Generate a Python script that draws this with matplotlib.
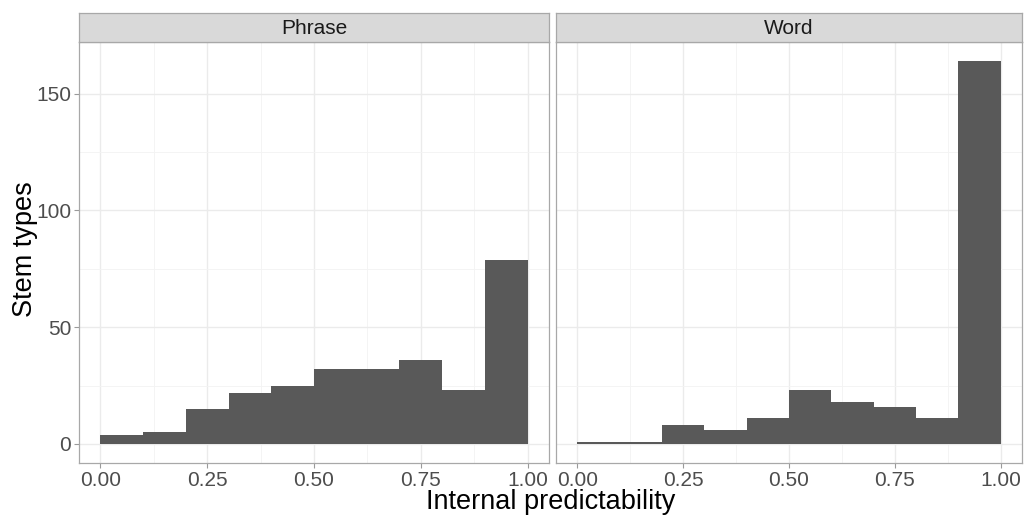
import numpy as np
import matplotlib
matplotlib.use("Agg")
import matplotlib.pyplot as plt
from matplotlib.ticker import MultipleLocator

plt.rcParams['font.family'] = ['Liberation Sans', 'DejaVu Sans']

# histogram bins (width 0.1) and counts per facet
bin_edges = [0.0, 0.1, 0.2, 0.3, 0.4, 0.5, 0.6, 0.7, 0.8, 0.9, 1.0]
facets = ["Phrase", "Word"]
phrase_counts = [4, 5, 15, 22, 25, 32, 32, 36, 23, 79]
word_counts = [1, 1, 8, 6, 11, 23, 18, 16, 11, 164]
x_ticks = [0.0, 0.25, 0.5, 0.75, 1.0]
x_ticklabels = ["0.00", "0.25", "0.50", "0.75", "1.00"]
y_ticks = [0, 50, 100, 150]

W, H = 1024, 516
fig = plt.figure(figsize=(W / 100, H / 100), dpi=100)

ymax = max(max(phrase_counts), max(word_counts))
ylim = (-0.05 * ymax, 1.05 * ymax)

panels = [(79, 549), (556, 1022)]
top, strip_top, bottom = 42, 13, 463

for i, (name, counts) in enumerate(zip(facets, [phrase_counts, word_counts])):
    x0, x1 = panels[i]
    ax = fig.add_axes([x0 / W, (H - bottom) / H, (x1 - x0) / W, (bottom - top) / H])
    left = np.array(bin_edges[:-1])
    widths = np.diff(bin_edges)
    ax.bar(left, counts, width=widths, align="edge", color="#595959", linewidth=0, zorder=3)
    ax.set_xlim(-0.05, 1.05)
    ax.set_ylim(*ylim)
    ax.set_xticks(x_ticks)
    ax.set_xticklabels(x_ticklabels)
    ax.xaxis.set_minor_locator(MultipleLocator(0.125))
    ax.set_yticks(y_ticks)
    ax.yaxis.set_minor_locator(MultipleLocator(25))
    ax.grid(which="major", color="#EBEBEB", linewidth=1.0, zorder=0)
    ax.grid(which="minor", color="#F3F3F3", linewidth=0.6, zorder=0)
    ax.set_axisbelow(True)
    for s in ax.spines.values():
        s.set_color("#A8A8A8")
        s.set_linewidth(0.9)
    ax.tick_params(which="major", length=3.5, color="#9A9A9A", labelsize=15,
                   labelcolor="#4D4D4D", pad=2)
    ax.tick_params(which="minor", length=0)
    if i > 0:
        ax.tick_params(axis="y", left=False, labelleft=False)
    # strip
    sax = fig.add_axes([x0 / W, (H - top) / H, (x1 - x0) / W, (top - strip_top) / H])
    sax.set_facecolor("#D9D9D9")
    sax.set_xticks([])
    sax.set_yticks([])
    for s in sax.spines.values():
        s.set_color("#A8A8A8")
        s.set_linewidth(0.9)
    sax.text(0.5, 0.46, name, ha="center", va="center", fontsize=15,
             color="#1A1A1A", transform=sax.transAxes)

fig.text(0.5 * (79 + 1022) / W, (H - 509) / H, "Internal predictability", ha="center",
         va="baseline", fontsize=19.5)
fig.text(12 / W, (H - 249) / H, "Stem types", rotation=90,
         ha="left", va="center", fontsize=19.5)

fig.savefig("out.png", dpi=100)
